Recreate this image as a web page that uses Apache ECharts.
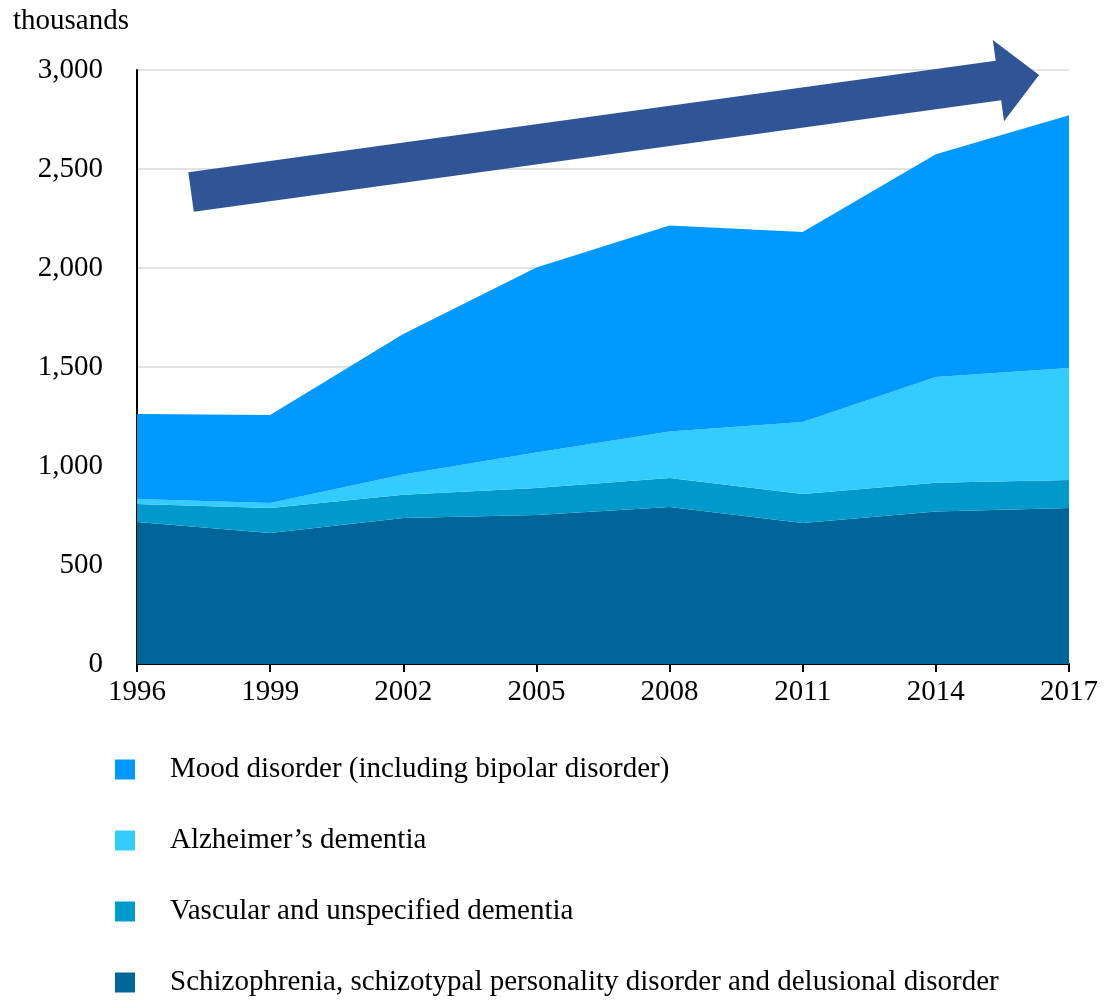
<!DOCTYPE html>
<html>
<head>
<meta charset="utf-8">
<style>
  html, body { margin: 0; padding: 0; background: #ffffff; }
  #chart { width: 1106px; height: 1003px; }
</style>
<script src="https://cdn.jsdelivr.net/npm/echarts@6/dist/echarts.min.js"></script>
</head>
<body>
<div id="chart"></div>
<script>
// Survey years
const years = ['1996', '1999', '2002', '2005', '2008', '2011', '2014', '2017'];

// Patients by disorder group (thousands), stacked bottom to top
const schizophrenia = [717, 662, 737, 753, 793, 712, 770, 788];
const vascularDementia = [91, 126, 118, 136, 146, 147, 146, 141];
const alzheimers = [25, 25, 102, 179, 235, 363, 534, 566];
const moodDisorder = [430, 445, 710, 935, 1041, 960, 1124, 1276];

// Y axis range
const yMin = 0, yMax = 3000, yStep = 500;

// Trend arrow endpoints in axis coordinates [fractional category index, value]
const arrowTail = [0.406, 2384];
const arrowTip = [6.775, 2975];

const names = {
  schizo: 'Schizophrenia, schizotypal personality disorder and delusional disorder',
  vascular: 'Vascular and unspecified dementia',
  alz: 'Alzheimer\u2019s dementia',
  mood: 'Mood disorder (including bipolar disorder)'
};

const serif = '"Liberation Serif", "Times New Roman", serif';
const fontSize = 29;

function areaSeries(name, data, color) {
  return {
    name: name,
    type: 'line',
    stack: 'total',
    data: data,
    symbol: 'none',
    smooth: false,
    lineStyle: { width: 0 },
    areaStyle: { color: color, opacity: 1 },
    itemStyle: { color: color },
    emphasis: { disabled: true }
  };
}

const chart = echarts.init(document.getElementById('chart'), null, { renderer: 'canvas' });

chart.setOption({
  animation: false,
  backgroundColor: '#ffffff',
  title: {
    text: 'thousands',
    left: 8,
    top: 2,
    textStyle: { fontFamily: serif, fontSize: fontSize, fontWeight: 'normal', color: '#000' }
  },
  grid: { left: 137, right: 37, top: 70, bottom: 339, containLabel: false },
  xAxis: {
    type: 'category',
    data: years,
    boundaryGap: false,
    axisLine: { lineStyle: { color: '#000', width: 2 } },
    axisTick: { show: true, length: 8, lineStyle: { color: '#000', width: 2 } },
    axisLabel: { fontFamily: serif, fontSize: fontSize, color: '#000', margin: 14 },
    splitLine: { show: false }
  },
  yAxis: {
    type: 'value',
    min: yMin,
    max: yMax,
    interval: yStep,
    axisLine: { show: true, lineStyle: { color: '#000', width: 2 } },
    axisTick: { show: false },
    axisLabel: {
      fontFamily: serif, fontSize: fontSize, color: '#000', margin: 34,
      formatter: v => v.toLocaleString('en-US')
    },
    splitLine: { show: true, lineStyle: { color: '#d9d9d9', width: 1.5 } }
  },
  legend: {
    orient: 'vertical',
    left: 115,
    top: 755,
    bottom: 0,
    padding: 0,
    itemWidth: 20,
    itemHeight: 20,
    itemGap: 42,
    icon: 'rect',
    data: [names.mood, names.alz, names.vascular, names.schizo],
    textStyle: { fontFamily: serif, fontSize: fontSize, color: '#000', lineHeight: 29, padding: [0, 0, 0, 30] }
  },
  series: [
    areaSeries(names.schizo, schizophrenia, '#006699'),
    areaSeries(names.vascular, vascularDementia, '#0099CC'),
    areaSeries(names.alz, alzheimers, '#33CCFF'),
    areaSeries(names.mood, moodDisorder, '#0099FF')
  ]
});

// Pixel position of a fractional category index and value
function toPixel(pos) {
  const i0 = Math.floor(pos[0]);
  const t = pos[0] - i0;
  const a = chart.convertToPixel({ gridIndex: 0 }, [i0, pos[1]]);
  const b = chart.convertToPixel({ gridIndex: 0 }, [i0 + 1, pos[1]]);
  return [a[0] + (b[0] - a[0]) * t, a[1]];
}

// Block arrow showing the upward trend
function drawArrow() {
  const p0 = toPixel(arrowTail);
  const p1 = toPixel(arrowTip);
  const dx = p1[0] - p0[0], dy = p1[1] - p0[1];
  const len = Math.hypot(dx, dy);
  const u = [dx / len, dy / len];
  const n = [-u[1], u[0]];
  const shaftHalf = 20, headHalf = 41, headLen = 41;
  const b = [p0[0] + u[0] * (len - headLen), p0[1] + u[1] * (len - headLen)];
  const pt = (base, k) => [base[0] + n[0] * k, base[1] + n[1] * k];
  const points = [
    pt(p0, -shaftHalf), pt(b, -shaftHalf), pt(b, -headHalf), p1,
    pt(b, headHalf), pt(b, shaftHalf), pt(p0, shaftHalf)
  ];
  chart.setOption({
    graphic: [{
      type: 'polygon',
      z: 100,
      shape: { points: points },
      style: { fill: '#2F5597', stroke: null }
    }]
  });
}
drawArrow();
</script>
</body>
</html>
